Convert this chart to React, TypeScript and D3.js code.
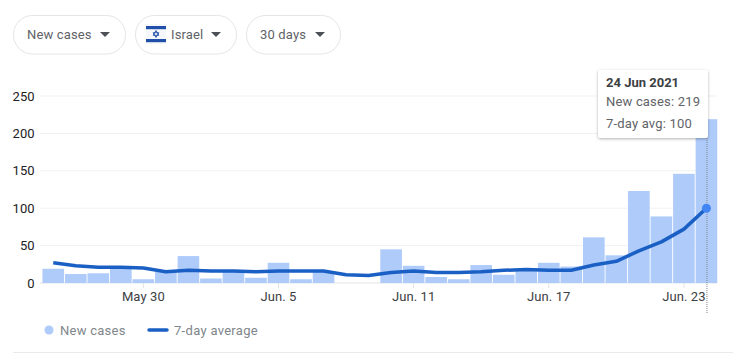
import React from "react";
import * as d3 from "d3";

const days = ["May 26","May 27","May 28","May 29","May 30","May 31","Jun 1","Jun 2","Jun 3","Jun 4","Jun 5","Jun 6","Jun 7","Jun 8","Jun 9","Jun 10","Jun 11","Jun 12","Jun 13","Jun 14","Jun 15","Jun 16","Jun 17","Jun 18","Jun 19","Jun 20","Jun 21","Jun 22","Jun 23","Jun 24"];
const newCases = [19,12,13,20,5,15,36,6,15,7,27,5,16,0,0,45,23,8,5,24,11,18,27,22,61,37,123,89,146,219];
const avg7 = [27,23,21,21,20,15,17,16,16,15,16,16,16,11,10,14,16,14,14,15,17,18,17,17,24,29,43,55,72,100];
const yTicks = [0,50,100,150,200,250];
const xTickDays = ["May 30","Jun 5","Jun 11","Jun 17","Jun 23"];
const xTickLabels = ["May 30","Jun. 5","Jun. 11","Jun. 17","Jun. 23"];
const pills = [
  { label: "New cases", x: 13, w: 112, tx: 27, ax: 105 },
  { label: "Israel", x: 135, w: 101, tx: 171, ax: 216 },
  { label: "30 days", x: 246, w: 94, tx: 260, ax: 320 },
];
const font = "Roboto, sans-serif";

export default function App() {
  const x = d3.scaleBand<string>().domain(days).range([42, 717.7]).paddingInner(0.04).paddingOuter(0.02);
  const y = d3.scaleLinear().domain([0, 250]).range([283, 96]);
  const cx = (d: string) => (x(d) as number) + x.bandwidth() / 2;
  const line = d3.line<number>().x((_, i) => cx(days[i])).y((d) => y(d));
  const last = days[days.length - 1];
  const lx = cx(last);
  return (
    <svg width={733} height={357} style={{ position: "absolute", left: 0, top: 0, fontFamily: font }}>
      <defs>
        <filter id="sh" x="-10%" y="-10%" width="120%" height="125%">
          <feDropShadow dx="0" dy="1" stdDeviation="1.5" floodColor="#000" floodOpacity="0.3" />
        </filter>
      </defs>
      <rect width={733} height={357} fill="#fff" />
      {pills.map((p) => (
        <g key={p.label}>
          <rect x={p.x + 0.5} y={15.5} width={p.w} height={38.5} rx={19} fill="#fff" stroke="#e4e5e7" />
          <text x={p.tx} y={39} fontSize={13} letterSpacing={0.15} fill="#5f6368">{p.label}</text>
          <path d={`M${p.ax - 5},32 h10 l-5,5 z`} fill="#4d5156" />
        </g>
      ))}
      <g>
        <rect x={146} y={24} width={20} height={20} fill="#f6f7fb" />
        <rect x={146} y={26} width={20} height={3.2} fill="#1f4fa8" />
        <rect x={146} y={39} width={20} height={3.2} fill="#1f4fa8" />
        <path d="M156,30.5 l2.8,4.8 h-5.6 z M156,37.5 l2.8,-4.8 h-5.6 z" fill="none" stroke="#1f4fa8" strokeWidth={0.9} />
      </g>
      {yTicks.map((t) => (
        <g key={t}>
          <line x1={40} x2={717} y1={y(t)} y2={y(t)} stroke={t === 0 ? "#e2e3e5" : "#f1f1f1"} />
          <text x={34.5} y={y(t) + 4.5} textAnchor="end" fontSize={13} fill="#222">{t}</text>
        </g>
      ))}
      {days.map((d, i) => (
        <rect key={d} x={x(d)} y={y(newCases[i])} width={x.bandwidth()} height={283 - y(newCases[i])} fill="#aecbfa" />
      ))}
      {xTickDays.map((d, i) => (
        <g key={d}>
          <line x1={cx(d)} x2={cx(d)} y1={283} y2={288} stroke="#e2e3e5" />
          <text x={cx(d)} y={301} textAnchor="middle" fontSize={13} letterSpacing={0.1} fill="#3c4043">{xTickLabels[i]}</text>
        </g>
      ))}
      <path d={line(avg7) as string} fill="none" stroke="#1a5fc4" strokeWidth={3.5} strokeLinejoin="round" />
      <line x1={lx + 0.5} x2={lx + 0.5} y1={72} y2={314} stroke="#80868b" strokeDasharray="1 1" />
      <circle cx={lx} cy={y(avg7[29])} r={4.5} fill="#4285f4" />
      <g>
        <rect x={598} y={70} width={110} height={68} rx={2} fill="#fff" filter="url(#sh)" />
        <text x={606} y={87} fontSize={13} fontWeight={700} fill="#3c4043">24 Jun 2021</text>
        <text x={606} y={106} fontSize={13} letterSpacing={0.18} fill="#5f6368">New cases: {newCases[29]}</text>
        <text x={606} y={128} fontSize={13} letterSpacing={0.18} fill="#5f6368">7-day avg: {avg7[29]}</text>
      </g>
      <circle cx={49} cy={330} r={4.5} fill="#aecbfa" />
      <text x={60} y={335} fontSize={13} letterSpacing={0.25} fill="#80868b">New cases</text>
      <line x1={149} x2={167} y1={330} y2={330} stroke="#1a5fc4" strokeWidth={3.5} strokeLinecap="round" />
      <text x={174} y={335} fontSize={13} letterSpacing={0.3} fill="#80868b">7-day average</text>
      <line x1={13} x2={733} y1={352.5} y2={352.5} stroke="#e8eaed" />
    </svg>
  );
}
